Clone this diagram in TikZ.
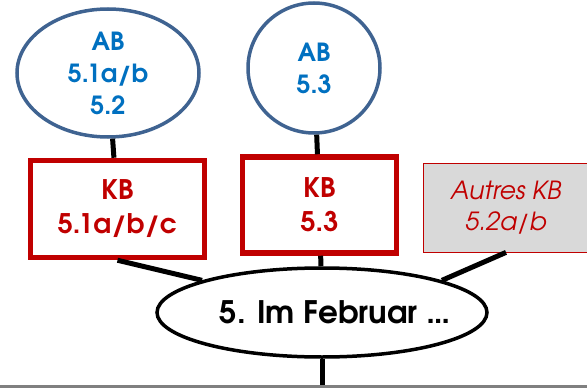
\documentclass[tikz,border=0pt]{standalone}
\usepackage{fontspec}
\setmainfont{TeX Gyre Adventor}
\usetikzlibrary{shapes.geometric}

\begin{document}
\begin{tikzpicture}[x=1pt,y=-1pt,line cap=rect,
    abnode/.style={ellipse, draw=custcol_3f_63_91, line width=3.5pt, text=custcol_0_70_c0, inner sep=0, align=center, font=\fontsize{25pt}{32pt}\selectfont\bfseries},
    kbnode/.style={rectangle, draw=custcol_c0_0_0, line width=5.5pt, text=custcol_c0_0_0, inner sep=0, align=center, font=\fontsize{27pt}{34pt}\selectfont\bfseries},
    link/.style={line width=5pt, line cap=butt, custcol_0_0_0}]
	\definecolor{custcol_3f_63_91}{RGB}{63, 99, 145}
	\definecolor{custcol_0_70_c0}{RGB}{0, 112, 192}
	\definecolor{custcol_c0_0_0}{RGB}{192, 0, 0}
	\definecolor{custcol_0_0_0}{RGB}{0, 0, 0}
	\definecolor{custcol_d9_d9_d9}{RGB}{217, 217, 217}
	\definecolor{custcol_80_80_80}{RGB}{128, 128, 128}
	\clip (0.0,0.0) rectangle (587.0,388.0);
	% Arbeitsblaetter
	\node[abnode, minimum width=182.0, minimum height=128.0] (ab1) at (108.0,73.0) {AB\\5.1a/b\\5.2};
	\node[abnode, minimum width=132.0, minimum height=130.0] (ab2) at (314.0,68.0) {AB\\5.3};
	% Kursbuch
	\node[kbnode, minimum width=174.0, minimum height=97.0] (kb1) at (117.5,209.0) {KB\\5.1a/b/c};
	\node[kbnode, minimum width=154.0, minimum height=96.0] (kb2) at (319.5,205.0) {KB\\5.3};
	\node[rectangle, draw=custcol_c0_0_0, line width=0.8pt, fill=custcol_d9_d9_d9, text=custcol_c0_0_0, inner sep=0, align=center, minimum width=166.0, minimum height=89.0, font=\fontsize{25pt}{31pt}\selectfont\itshape] (kb3) at (506.0,207.5) {Autres KB\\5.2a/b};
	% Thema
	\node[ellipse, draw=custcol_0_0_0, line width=3.5pt, inner sep=0, minimum width=330.0, minimum height=89.0, font=\fontsize{31pt}{31pt}\selectfont\bfseries] (theme) at (322.0,312.5) {\makebox[0pt]{\hspace{26pt}5. Im Februar …}};
	\coordinate (down) at (322.0,390.0);
	\draw [link] (ab1) -- (kb1);
	\draw [link] (ab2) -- (kb2);
	\draw [link] (kb1.south) -- (theme.165);
	\draw [link] (kb2) -- (theme);
	\draw [link] (kb3.south) -- (theme.15);
	\draw [link] (theme) -- (down);
	\draw [line width=3.0pt, custcol_80_80_80] (0.0,386.5) -- (587.0,386.5);
\end{tikzpicture}
\end{document}
